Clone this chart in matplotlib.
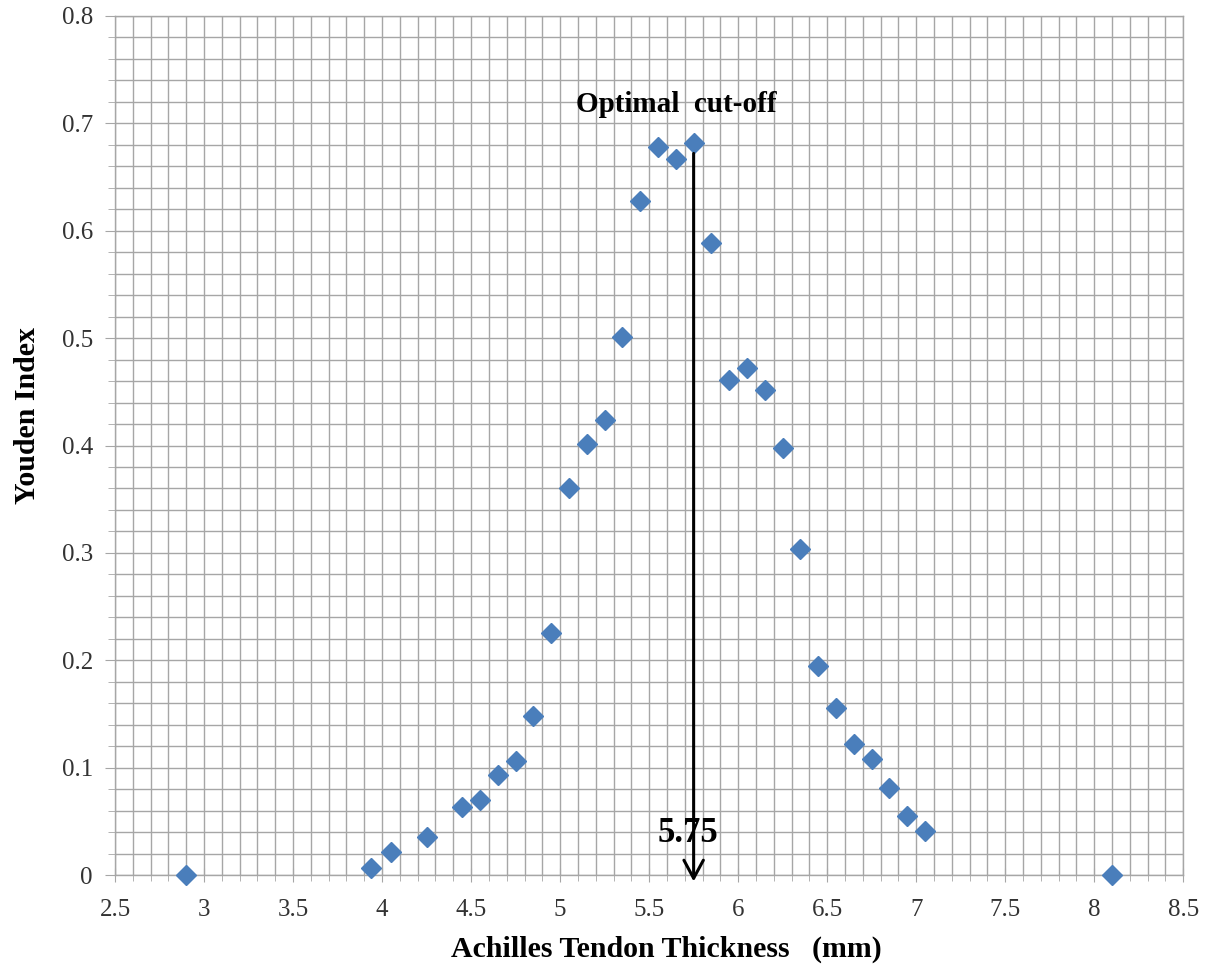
import matplotlib
matplotlib.use('Agg')
import matplotlib.pyplot as plt
from matplotlib.ticker import MultipleLocator

# thickness (mm) and Youden index
thickness = [2.9, 3.94, 4.05, 4.25, 4.45, 4.55, 4.65, 4.75, 4.85, 4.95,
             5.05, 5.15, 5.25, 5.35, 5.45, 5.55, 5.65, 5.75, 5.85, 5.95,
             6.05, 6.15, 6.25, 6.35, 6.45, 6.55, 6.65, 6.75, 6.85, 6.95,
             7.05, 8.1]
youden = [0.0, 0.007, 0.021, 0.035, 0.063, 0.070, 0.093, 0.106, 0.148, 0.225,
          0.360, 0.401, 0.424, 0.501, 0.628, 0.678, 0.667, 0.682, 0.589, 0.461,
          0.472, 0.452, 0.398, 0.304, 0.195, 0.156, 0.122, 0.108, 0.081, 0.055,
          0.041, 0.0]

cutoff = 5.75
cutoff_label = '5.75'
title_text = 'Optimal  cut-off'

serif = 'Liberation Serif'

fig = plt.figure(figsize=(12.07, 9.74), dpi=100)
ax = fig.add_axes([0.0953, 0.1016, 0.885, 0.882])

ax.set_xlim(2.5, 8.5)
ax.set_ylim(0, 0.8)
ax.xaxis.set_major_locator(MultipleLocator(0.5))
ax.xaxis.set_minor_locator(MultipleLocator(0.1))
ax.yaxis.set_major_locator(MultipleLocator(0.1))
ax.yaxis.set_minor_locator(MultipleLocator(0.02))

# grid on every minor step
grid_col = '#a6a6a6'
ax.grid(which='both', color=grid_col, linewidth=1.0)
ax.set_axisbelow(True)
for s in ax.spines.values():
    s.set_color(grid_col)
    s.set_linewidth(1.0)

ax.tick_params(which='major', direction='out', length=7, color=grid_col,
               labelsize=18, labelcolor='#333333', pad=9)
ax.tick_params(which='minor', direction='out', length=5, color=grid_col)
ax.tick_params(axis='x', which='both', direction='inout', length=10)
ax.tick_params(axis='x', which='minor', length=8)
ax.tick_params(axis='x', which='major', pad=12)

# tick labels like excel: 0, 0.1, ... and 2.5, 3, ...
ax.xaxis.set_major_formatter(lambda v, p: f'{v:g}')
ax.yaxis.set_major_formatter(lambda v, p: f'{v:g}')
for lab in ax.get_xticklabels() + ax.get_yticklabels():
    lab.set_fontfamily(serif)

ax.plot(thickness, youden, linestyle='none', marker='D', markersize=10.5,
        color='#4a7ebb', zorder=3, clip_on=False)

# cut-off arrow
ax.annotate('', xy=(cutoff, -0.006), xytext=(cutoff, 0.672),
            annotation_clip=False,
            arrowprops=dict(arrowstyle='->,head_length=1.3,head_width=0.7',
                            color='black', lw=2.2, shrinkA=0, shrinkB=0),
            zorder=4)
ax.text(cutoff - 0.1, 0.718, title_text, ha='center', va='center',
        fontsize=21, fontweight='bold', family=serif)
ax.text(cutoff - 0.03, 0.039, cutoff_label, ha='center', va='center',
        fontsize=25, fontweight='bold', family=serif)

ax.set_xlabel('Achilles Tendon Thickness   (mm)', fontsize=21.5,
              fontweight='bold', family=serif)
ax.set_ylabel('Youden Index', fontsize=21.5, fontweight='bold', family=serif)
ax.xaxis.set_label_coords(0.516, -0.070)
ax.yaxis.set_label_coords(-0.069, 0.535)

fig.savefig('out.png', dpi=100)
